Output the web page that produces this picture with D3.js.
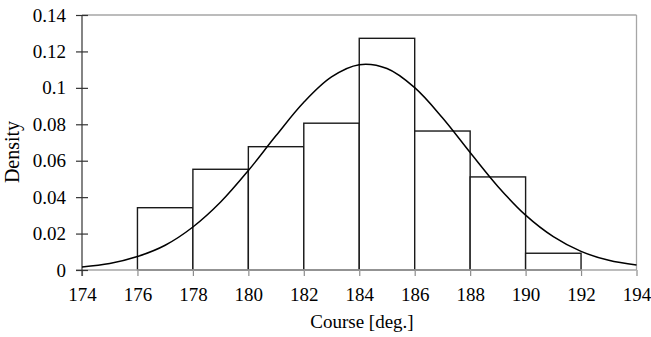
<!DOCTYPE html>
<html>
<head>
<meta charset="utf-8">
<script src="https://cdn.jsdelivr.net/npm/d3@7"></script>
<style>
  body { margin: 0; background: #fff; }
  svg text { font-family: "Liberation Serif", "Times New Roman", serif; fill: #000; }
</style>
</head>
<body>
<div id="chart"></div>
<script>
// histogram bins (left edge, right edge) and density heights
var binStarts = [176, 178, 180, 182, 184, 186, 188, 190];
var binEnds = [178, 180, 182, 184, 186, 188, 190, 192];
var binDensity = [0.0342, 0.0553, 0.0677, 0.0806, 0.1272, 0.0763, 0.0511, 0.0092];

// fitted curve at each degree
var curveX = [174, 175, 176, 177, 178, 179, 180, 181, 182, 183, 184, 185, 186, 187, 188, 189, 190, 191, 192, 193, 194];
var curveY = [0.0017, 0.0036, 0.0074, 0.0136, 0.0236, 0.0373, 0.0546, 0.0738, 0.0921, 0.1060, 0.1127, 0.1106, 0.1001, 0.0836, 0.0645, 0.0459, 0.0301, 0.0183, 0.0102, 0.0053, 0.0027];

var xTicks = [174, 176, 178, 180, 182, 184, 186, 188, 190, 192, 194];
var yTicks = [0, 0.02, 0.04, 0.06, 0.08, 0.1, 0.12, 0.14];

var svgWidth = 651;
var svgHeight = 337;
var margin = { top: 15, right: 15, bottom: 67, left: 82 };
var chartWidth = 636.5 - margin.left;
var chartHeight = 270 - margin.top;
var serif = "'Liberation Serif', 'Times New Roman', serif";

var svg = d3.select("#chart")
  .append("svg")
  .attr("width", svgWidth)
  .attr("height", svgHeight);

var g = svg.append("g")
  .attr("transform", `translate(${margin.left}, ${margin.top})`);

var xScale = d3.scaleLinear().domain([174, 194]).range([0, chartWidth]);
var yScale = d3.scaleLinear().domain([0, 0.14]).range([chartHeight, 0]);

// top and right frame lines
g.append("line")
  .attr("x1", 0).attr("x2", chartWidth)
  .attr("y1", 0).attr("y2", 0)
  .attr("stroke", "#a6a6a6").attr("stroke-width", 1.3);
g.append("line")
  .attr("x1", chartWidth).attr("x2", chartWidth)
  .attr("y1", 0).attr("y2", chartHeight)
  .attr("stroke", "#a6a6a6").attr("stroke-width", 1.3);

// bars
g.selectAll("rect.bar")
  .data(binDensity)
  .enter()
  .append("rect")
  .attr("class", "bar")
  .attr("x", (d, i) => xScale(binStarts[i]))
  .attr("width", (d, i) => xScale(binEnds[i]) - xScale(binStarts[i]))
  .attr("y", d => yScale(d))
  .attr("height", d => chartHeight - yScale(d))
  .attr("fill", "#fff")
  .attr("stroke", "#1a1a1a")
  .attr("stroke-width", 1.4);

// x axis
var xAxis = g.append("g")
  .attr("transform", `translate(0, ${chartHeight})`)
  .call(d3.axisBottom(xScale).tickValues(xTicks).tickSize(6).tickPadding(12).tickFormat(d3.format("d")))
  .attr("font-family", serif)
  .attr("font-size", 19);
xAxis.select(".domain").remove();
xAxis.append("line")
  .attr("x1", -6).attr("x2", chartWidth)
  .attr("stroke", "#a6a6a6").attr("stroke-width", 1.5);
xAxis.selectAll(".tick line").attr("stroke", "#8c8c8c").attr("stroke-width", 1.2);
xAxis.selectAll(".tick text").attr("fill", "#000");

// y axis
var yAxis = g.append("g")
  .call(d3.axisLeft(yScale).tickValues(yTicks).tickSize(6).tickPadding(10).tickFormat(d => String(+d.toFixed(2))))
  .attr("font-family", serif)
  .attr("font-size", 19);
yAxis.select(".domain").remove();
yAxis.append("line")
  .attr("y1", 0).attr("y2", chartHeight + 6)
  .attr("stroke", "#333").attr("stroke-width", 1.2);
yAxis.selectAll(".tick line")
  .attr("x1", -6).attr("x2", 6)
  .attr("stroke", "#333").attr("stroke-width", 1.2);
yAxis.selectAll(".tick text").attr("fill", "#000");

// fitted curve
var line = d3.line()
  .x((d, i) => xScale(curveX[i]))
  .y(d => yScale(d))
  .curve(d3.curveCatmullRom);
g.append("path")
  .datum(curveY)
  .attr("d", line)
  .attr("fill", "none")
  .attr("stroke", "#000")
  .attr("stroke-width", 1.5);

// axis titles
svg.append("text")
  .attr("x", 362)
  .attr("y", 328)
  .attr("text-anchor", "middle")
  .attr("font-size", 19)
  .text("Course [deg.]");

svg.append("text")
  .attr("transform", "translate(19, 152) rotate(-90)")
  .attr("text-anchor", "middle")
  .attr("font-size", 20)
  .text("Density");
</script>
</body>
</html>
